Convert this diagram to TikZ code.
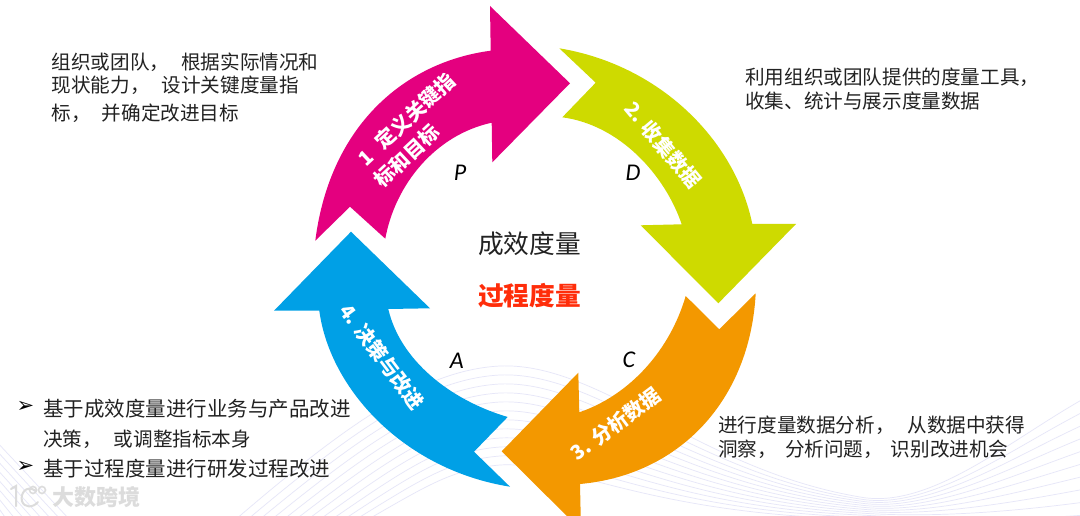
\documentclass[tikz,border=0pt]{standalone}
\usepackage{fontspec}
\setmainfont{Noto Sans CJK SC}
\newfontfamily\arrfont{DejaVu Sans}
\newfontfamily\pdcafont{Carlito}
\definecolor{cmag}{HTML}{E4007F}
\definecolor{cgrn}{HTML}{CEDA00}
\definecolor{corg}{HTML}{F39800}
\definecolor{cblu}{HTML}{00A0E6}
\definecolor{cred}{HTML}{FF2D0A}
\definecolor{ctxt}{HTML}{222222}
\definecolor{cwave}{HTML}{E6E6F8}
\definecolor{cmark}{HTML}{DCDCDC}
\tikzset{
  body/.style={anchor=base west,inner sep=0pt,text=ctxt,font=\fontsize{19.6}{24}\selectfont},
  wide/.style={anchor=base west,inner sep=0pt,text=ctxt,font=\fontsize{20.5}{24}\selectfont},
  bul/.style={anchor=center,inner sep=0pt,text=black,font=\arrfont\fontsize{21}{24}\selectfont},
  centre/.style={anchor=base west,inner sep=0pt,font=\fontsize{25.7}{30}\selectfont},
  onarrow/.style={anchor=center,inner sep=0pt,text=white,font=\bfseries\fontsize{20}{24}\selectfont},
  pdca/.style={anchor=center,inner sep=0pt,text=black,font=\pdcafont\itshape\fontsize{24}{28}\selectfont},
  wave/.style={draw=cwave,line width=0.7pt},
  markline/.style={draw=cmark,line width=2pt,line cap=round}
}
\begin{document}
\begin{tikzpicture}[x=1pt,y=-1pt]
\useasboundingbox (0,0) rectangle (1080,516);
\clip (0,0) rectangle (1080,516);
\fill[white] (0,0) rectangle (1080,516);
% background waves
\foreach \i in {0,...,11}{
  \draw[wave] ({235+\i*12},520)
    .. controls ({340+\i*8},{430+\i*5}) and ({420+\i*3},{370+\i*9}) .. (500,{366+\i*9})
    .. controls ({600-\i*3},{362+\i*9}) and ({700-\i*5},{470+\i*4}) .. ({860},{497+\i*2})
    .. controls ({930},{510+\i*1}) and ({1010},{440+\i*9}) .. (1085,{398+\i*13});
}
\foreach \i in {0,...,8}{
  \draw[wave] (-5,{440+\i*9}) -- ({70-\i*9},520);
}
% arrows
\fill[cmag] (315.3,240.7) -- (350,206.7) -- (385.3,238.7)
  .. controls (395,185) and (435,135) .. (491.7,122.7)
  -- (492.3,162.3) -- (570,83.3) -- (490,6) -- (490.7,50.7)
  .. controls (405,62) and (330,125) .. (315.3,240.7) -- cycle;
\fill[cgrn] (559.3,48.3) -- (595.7,82.7) -- (562.3,117.3)
  .. controls (620,125) and (665,175) .. (681.7,224.3)
  -- (640.7,225.3) -- (718.3,303.3) -- (796,224) -- (752.3,224)
  .. controls (735,140) and (660,65) .. (559.3,48.3) -- cycle;
\fill[corg] (755.7,293.3) -- (719.3,329.3) -- (685.7,296)
  .. controls (670,350) and (630,395) .. (579.3,412.3)
  -- (578.3,372.7) -- (501.7,451.3) -- (581,530) -- (580,484)
  .. controls (680,475) and (750,400) .. (755.7,293.3) -- cycle;
\fill[cblu] (510,486.7) -- (474,451.7) -- (507.7,417)
  .. controls (450,400) and (400,360) .. (388.3,309)
  -- (430,308.3) -- (351,231.7) -- (274,310.7) -- (319.3,310.7)
  .. controls (330,390) and (405,470) .. (510,486.7) -- cycle;
% texts on arrows
\node[onarrow,rotate=43] (a1a) at (406.5,119.5) {1\hspace{12pt}定义关键指};
\node[onarrow,rotate=43] (a1b) at (407,156) {标和目标};
\node[onarrow,rotate=-50] (a2) at (663.3,145) {2. 收集数据};
\node[onarrow,rotate=37] (a3) at (615.5,424) {3. 分析数据};
\node[onarrow,rotate=-53] (a4) at (382,356.7) {4. 决策与改进};
% PDCA
\node[pdca] (p) at (460,172.7) {P};
\node[pdca] (d) at (633,172.7) {D};
\node[pdca] (c) at (629,360) {C};
\node[pdca] (a) at (456.7,361) {A};
% centre
\node[centre,text=ctxt] (m1) at (478,254) {成效度量};
\node[centre,text=cred,font=\bfseries\fontsize{25.7}{30}\selectfont] (m2) at (478,305) {过程度量};
% paragraphs
\node[body] (t1a) at (51.5,70) {组织或团队，\hspace{12pt}根据实际情况和};
\node[body] (t1b) at (51.5,93) {现状能力，\hspace{12pt}设计关键度量指};
\node[body] (t1c) at (51.5,120.5) {标，\hspace{11pt}并确定改进目标};
\node[body] (t2a) at (745,84.5) {利用组织或团队提供的度量工具，};
\node[body] (t2b) at (745,108.5) {收集、统计与展示度量数据};
\node[body] (t3a) at (718,432) {进行度量数据分析，\hspace{13pt}从数据中获得};
\node[body] (t3b) at (718,456) {洞察，\hspace{8pt}分析问题，\hspace{8pt}识别改进机会};
\node[bul] (b1) at (25.5,407) {➢};
\node[wide] (t4a) at (43,416) {基于成效度量进行业务与产品改进};
\node[body] (t4b) at (43,446) {决策，\hspace{12pt}或调整指标本身};
\node[bul] (b2) at (25.5,467) {➢};
\node[wide] (t4c) at (43,476) {基于过程度量进行研发过程改进};
% watermark
\draw[markline] (11,489) -- (16,486) -- (16,506);
\draw[markline] (36,491) .. controls (26,484) and (20,494) .. (22,501) .. controls (24,508) and (33,508) .. (38,502);
\draw[cmark,line width=1.6pt] (33,490) circle (3.5);
\draw[cmark,line width=1.6pt] (42,490) circle (3.5);
\node[anchor=base west,inner sep=0pt,text=cmark,font=\bfseries\fontsize{22}{26}\selectfont] (wm) at (52,505) {大数跨境};
\end{tikzpicture}
\end{document}
